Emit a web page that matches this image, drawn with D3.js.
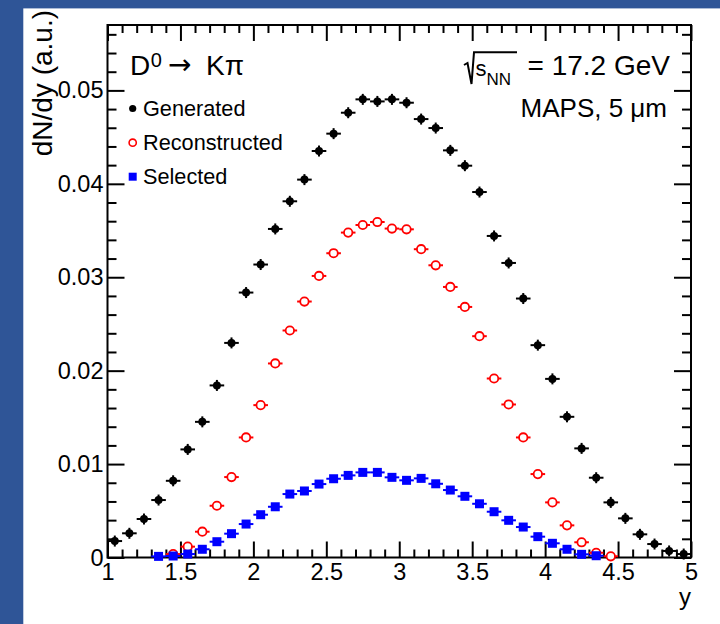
<!DOCTYPE html>
<html>
<head>
<meta charset="utf-8">
<script src="https://cdn.jsdelivr.net/npm/d3@7"></script>
<style>
  html, body { margin: 0; padding: 0; background: #2f5597; }
  svg { display: block; }
  text { font-family: "Liberation Sans", Arial, "DejaVu Sans", sans-serif; fill: #000; }
</style>
</head>
<body>
<svg id="chart" width="720" height="624"></svg>
<script>
// ---------------- data ----------------
const binCenters = [1.05,1.15,1.25,1.35,1.45,1.55,1.65,1.75,1.85,1.95,
                    2.05,2.15,2.25,2.35,2.45,2.55,2.65,2.75,2.85,2.95,
                    3.05,3.15,3.25,3.35,3.45,3.55,3.65,3.75,3.85,3.95,
                    4.05,4.15,4.25,4.35,4.45,4.55,4.65,4.75,4.85,4.95];
const generated = [0.00176,0.00259,0.00412,0.00615,0.00821,0.01157,0.01452,0.01842,0.02297,0.02836,
                   0.03136,0.03517,0.03813,0.04045,0.04351,0.04537,0.04761,0.04904,0.04882,0.04904,
                   0.04868,0.04693,0.04597,0.04358,0.04194,0.03912,0.03442,0.03153,0.02772,0.02273,
                   0.01912,0.01506,0.01168,0.00854,0.00590,0.00419,0.00248,0.00144,0.00070,0.00037];
const reconstructed = [null,null,null,null,0.00037,0.00116,0.00276,0.00554,0.00861,0.01285,
                   0.01631,0.02077,0.02430,0.02740,0.03014,0.03257,0.03478,0.03559,0.03591,0.03521,
                   0.03513,0.03300,0.03128,0.02896,0.02682,0.02369,0.01916,0.01638,0.01285,0.00893,
                   0.00590,0.00344,0.00163,0.00051,0.00013,null,null,null,null,null];
const selected = [null,null,null,0.00012,0.00016,0.00037,0.00088,0.00169,0.00255,0.00358,
                   0.00458,0.00543,0.00679,0.00712,0.00786,0.00843,0.00879,0.00911,0.00911,0.00858,
                   0.00826,0.00847,0.00789,0.00722,0.00655,0.00575,0.00490,0.00398,0.00326,0.00223,
                   0.00152,0.00088,0.00034,0.00019,null,null,null,null,null,null];
const binHalfWidth = 0.05;
const xMajorTicks = [1,1.5,2,2.5,3,3.5,4,4.5,5];
const xTickLabels = ["1","1.5","2","2.5","3","3.5","4","4.5","5"];
const yMajorTicks = [0,0.01,0.02,0.03,0.04,0.05];
const yTickLabels = ["0","0.01","0.02","0.03","0.04","0.05"];
const legendLabels = ["Generated","Reconstructed","Selected"];

// ---------------- layout ----------------
const svg = d3.select("#chart");
const L = 107.5, R = 691, T = 25, B = 557.5;
svg.append("rect").attr("x",0).attr("y",0).attr("width",720).attr("height",624).attr("fill","#2f5597");
svg.append("rect").attr("x",23.3).attr("y",8.4).attr("width",720).attr("height",624).attr("fill","#fff");

const x = d3.scaleLinear().domain([1,5]).range([L,R]);
const y = d3.scaleLinear().domain([0,0.057]).range([B,T]);

const xMinor = d3.range(10,51).map(d=>d/10).filter(v=>Math.abs(v*2-Math.round(v*2))>1e-6);
const yMinor = d3.range(0,29).map(d=>d*0.002).filter(v=>Math.abs(v*100-Math.round(v*100))>1e-6);

function styleAxis(g){
  g.select(".domain").remove();
  g.selectAll(".tick line").attr("stroke","#000").attr("stroke-width",2);
  g.selectAll(".tick text").style("font-size","23.5px").attr("fill","#000");
}
// bottom
svg.append("g").attr("transform",`translate(0,${B})`)
  .call(d3.axisBottom(x).tickValues(xMajorTicks).tickSize(-16).tickPadding(6)
        .tickFormat((d,i)=>xTickLabels[i])).call(styleAxis);
svg.append("g").attr("transform",`translate(0,${B})`)
  .call(d3.axisBottom(x).tickValues(xMinor).tickSize(-8).tickFormat("")).call(styleAxis);
// top
svg.append("g").attr("transform",`translate(0,${T})`)
  .call(d3.axisTop(x).tickValues(xMajorTicks).tickSize(-16).tickFormat("")).call(styleAxis);
svg.append("g").attr("transform",`translate(0,${T})`)
  .call(d3.axisTop(x).tickValues(xMinor).tickSize(-8).tickFormat("")).call(styleAxis);
// left
svg.append("g").attr("transform",`translate(${L},0)`)
  .call(d3.axisLeft(y).tickValues(yMajorTicks).tickSize(-17).tickPadding(4)
        .tickFormat((d,i)=>yTickLabels[i])).call(styleAxis);
svg.append("g").attr("transform",`translate(${L},0)`)
  .call(d3.axisLeft(y).tickValues(yMinor).tickSize(-9).tickFormat("")).call(styleAxis);
// right
svg.append("g").attr("transform",`translate(${R},0)`)
  .call(d3.axisRight(y).tickValues(yMajorTicks).tickSize(-17).tickFormat("")).call(styleAxis);
svg.append("g").attr("transform",`translate(${R},0)`)
  .call(d3.axisRight(y).tickValues(yMinor).tickSize(-9).tickFormat("")).call(styleAxis);

// frame
svg.append("rect").attr("x",L).attr("y",T).attr("width",R-L).attr("height",B-T)
  .attr("fill","none").attr("stroke","#000").attr("stroke-width",2);

// ---------------- data marks ----------------
function series(vals){ return binCenters.map((c,i)=>({c, v: vals[i]})).filter(d=>d.v!==null); }

// Generated: black dots with error bars
const gGen = svg.append("g");
const gen = series(generated);
gGen.selectAll("line.h").data(gen).join("line")
  .attr("x1",d=>x(d.c-binHalfWidth)).attr("x2",d=>x(d.c+binHalfWidth))
  .attr("y1",d=>y(d.v)).attr("y2",d=>y(d.v)).attr("stroke","#000").attr("stroke-width",2);
gGen.selectAll("line.v").data(gen).join("line")
  .attr("x1",d=>x(d.c)).attr("x2",d=>x(d.c))
  .attr("y1",d=>y(d.v)-5.5).attr("y2",d=>y(d.v)+5.5).attr("stroke","#000").attr("stroke-width",2);
gGen.selectAll("circle").data(gen).join("circle")
  .attr("cx",d=>x(d.c)).attr("cy",d=>y(d.v)).attr("r",4).attr("fill","#000");

// Reconstructed: red open circles
const gRec = svg.append("g");
const rec = series(reconstructed);
gRec.selectAll("line").data(rec).join("line")
  .attr("x1",d=>x(d.c-binHalfWidth)).attr("x2",d=>x(d.c+binHalfWidth))
  .attr("y1",d=>y(d.v)).attr("y2",d=>y(d.v)).attr("stroke","#ff0000").attr("stroke-width",2);
gRec.selectAll("circle").data(rec).join("circle")
  .attr("cx",d=>x(d.c)).attr("cy",d=>y(d.v)).attr("r",4.2)
  .attr("fill","#fff").attr("stroke","#ff0000").attr("stroke-width",1.8);

// Selected: blue squares
const gSel = svg.append("g");
const sel = series(selected);
gSel.selectAll("line").data(sel).join("line")
  .attr("x1",d=>x(d.c-binHalfWidth)).attr("x2",d=>x(d.c+binHalfWidth))
  .attr("y1",d=>y(d.v)).attr("y2",d=>y(d.v)).attr("stroke","#0000ff").attr("stroke-width",2);
gSel.selectAll("rect").data(sel).join("rect")
  .attr("x",d=>x(d.c)-4.5).attr("y",d=>y(d.v)-4.5).attr("width",9).attr("height",9)
  .attr("fill","#0000ff");

// ---------------- legend ----------------
const legY = [108.5, 142.7, 176.7];
svg.append("circle").attr("cx",132.7).attr("cy",legY[0]).attr("r",3.6).attr("fill","#000");
svg.append("circle").attr("cx",132.7).attr("cy",legY[1]).attr("r",3.6).attr("fill","none")
  .attr("stroke","#ff0000").attr("stroke-width",1.6);
svg.append("rect").attr("x",128.7).attr("y",legY[2]-4).attr("width",8).attr("height",8).attr("fill","#0000ff");
legendLabels.forEach((t,i)=>{
  svg.append("text").attr("x",143).attr("y",legY[i]+7.5).style("font-size","21.7px").text(t);
});

// ---------------- labels ----------------
// D0 -> K pi
const title = svg.append("text").attr("x",130).attr("y",75).style("font-size","28px");
title.append("tspan").text("D");
title.append("tspan").attr("dx",0.5).attr("dy",-8.5).style("font-size","20px").text("0");
title.append("tspan").attr("x",168).attr("y",74).style("font-family","DejaVu Sans").text("→");
title.append("tspan").attr("x",206).attr("y",75).text("Kπ");

// sqrt(s_NN) = 17.2 GeV
svg.append("path").attr("d","M464,65 L467.5,63 L471.5,84 L474,52.3 L517,52.3")
  .attr("fill","none").attr("stroke","#000").attr("stroke-width",2);
const sq = svg.append("text").attr("x",475.5).attr("y",75.5).style("font-size","22px");
sq.append("tspan").text("s");
sq.append("tspan").attr("dy",9.5).style("font-size","17px").text("NN");
svg.append("text").attr("x",670).attr("y",75).attr("text-anchor","end").style("font-size","28px").text("= 17.2 GeV");
svg.append("text").attr("x",667).attr("y",116.5).attr("text-anchor","end").style("font-size","26px").text("MAPS, 5 μm");

// axis titles
svg.append("text").attr("transform","translate(52,10) rotate(-90)").attr("text-anchor","end")
  .style("font-size","28px").text("dN/dy (a.u.)");
svg.append("text").attr("x",691).attr("y",605).attr("text-anchor","end").style("font-size","24px").text("y");
</script>
</body>
</html>
